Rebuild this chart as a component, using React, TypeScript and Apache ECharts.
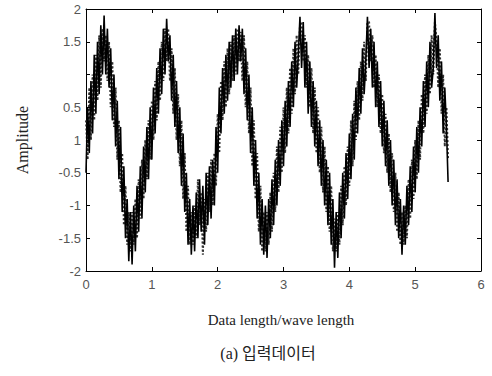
import React, { useEffect, useRef } from "react";
import * as echarts from "echarts";

const xStep = 0.025;
const solidValues = [
  -0.5, 0.5, -0.2, 0.9, 0.1, 1.3, 0.4, 1.5, 0.7, 1.75,
  1.0, 1.9, 1.0, 1.7, 0.8, 1.4, 0.3, 1.0, -0.1, 0.6,
  -0.6, 0.2, -1.1, -0.4, -1.5, -0.9, -1.85, -1.1, -1.9, -1.0,
  -1.7, -0.7, -1.4, -0.4, -1.2, -0.1, -0.8, 0.2, -0.6, 0.5,
  -0.3, 0.8, 0.1, 1.1, 0.4, 1.4, 0.7, 1.7, 1.0, 1.85,
  1.2, 1.6, 0.6, 1.3, 0.2, 0.9, -0.2, 0.5, -0.7, 0.1,
  -1.1, -0.5, -1.6, -0.9, -1.75, -1.0, -1.7, -0.8, -1.5, -0.6,
  -1.4, -0.7, -1.6, -0.5, -1.3, -0.4, -1.2, -0.3, -1.0, 0.2,
  -0.5, 0.8, 0.1, 1.1, 0.4, 1.3, 0.6, 1.5, 0.8, 1.6,
  0.9, 1.7, 1.0, 1.75, 1.2, 1.7, 0.7, 1.4, 0.3, 1.0,
  -0.2, 0.5, -0.7, 0.0, -1.2, -0.5, -1.6, -0.9, -1.75, -1.0,
  -1.8, -0.9, -1.5, -0.6, -1.3, -0.3, -1.0, 0.0, -0.7, 0.3,
  -0.4, 0.6, -0.1, 0.9, 0.2, 1.2, 0.5, 1.5, 0.8, 1.3,
  1.88, 1.1, 1.8, 0.8, 1.5, 0.4, 1.2, 0.2, 0.9, -0.1,
  0.6, -0.4, 0.3, -0.7, 0.0, -1.0, -0.3, -1.3, -0.5, -1.6,
  -0.9, -1.95, -1.1, -1.8, -0.8, -1.5, -0.5, -1.2, -0.2, -0.9,
  0.1, -0.6, 0.4, -0.3, 0.8, 0.1, 1.1, 0.4, 1.4, 0.7,
  1.2, 1.88, 1.1, 1.7, 0.8, 1.5, 0.5, 1.2, 0.2, 0.9,
  -0.1, 0.6, -0.4, 0.3, -0.7, 0.0, -1.0, -0.3, -1.3, -0.6,
  -1.5, -0.9, -1.75, -1.0, -1.6, -0.7, -1.3, -0.4, -1.1, -0.1,
  -0.8, 0.2, -0.5, 0.5, -0.1, 0.9, 0.2, 1.2, 0.5, 1.5,
  0.8, 1.1, 1.94, 1.1, 1.6, 0.6, 1.2, 0.1, 0.8, 0.2,
  -0.64,
];
const dottedValues = [
  0.3, -0.3, 0.8, 0.0, 1.0, 0.3, 1.3, 0.6, 1.6, 0.8,
  1.7, 1.2, 1.6, 0.9, 1.5, 0.5, 1.2, 0.2, 0.8, -0.3,
  0.3, -0.8, -0.2, -1.3, -0.7, -1.6, -1.1, -1.7, -1.1, -1.6,
  -0.9, -1.5, -0.6, -1.2, -0.3, -0.9, 0.0, -0.6, 0.3, -0.3,
  0.6, 0.0, 0.9, 0.3, 1.2, 0.6, 1.5, 0.9, 1.7, 1.2,
  1.7, 0.9, 1.4, 0.4, 1.1, 0.0, 0.7, -0.4, 0.3, -0.9,
  -0.2, -1.4, -0.7, -1.6, -1.1, -1.6, -1.0, -1.5, -0.6, -1.3,
  -0.8, -1.75, -0.9, -1.4, -0.5, -1.1, -0.3, -1.0, -0.2, -0.7,
  0.4, -0.2, 0.9, 0.3, 1.2, 0.5, 1.4, 0.7, 1.5, 0.9,
  1.6, 1.0, 1.7, 1.2, 1.65, 0.9, 1.6, 0.5, 1.2, 0.1,
  0.8, -0.4, 0.3, -0.9, -0.2, -1.4, -0.7, -1.7, -1.1, -1.7,
  -1.1, -1.6, -0.8, -1.4, -0.5, -1.1, -0.1, -0.8, 0.2, -0.5,
  0.5, -0.2, 0.8, 0.1, 1.1, 0.4, 1.4, 0.7, 1.6, 1.0,
  1.75, 1.8, 1.2, 1.6, 0.8, 1.3, 0.5, 1.1, 0.1, 0.8,
  -0.2, 0.5, -0.5, 0.2, -0.8, -0.1, -1.1, -0.4, -1.4, -0.7,
  -1.7, -1.2, -1.7, -1.1, -1.6, -0.7, -1.3, -0.4, -1.0, -0.1,
  -0.7, 0.3, -0.4, 0.6, 0.0, 0.9, 0.3, 1.2, 0.6, 1.5,
  0.9, 1.8, 1.8, 1.2, 1.6, 0.8, 1.3, 0.5, 1.0, 0.1,
  0.7, -0.2, 0.4, -0.5, 0.1, -0.8, -0.2, -1.1, -0.5, -1.4,
  -0.8, -1.6, -1.1, -1.6, -1.0, -1.5, -0.6, -1.2, -0.3, -0.9,
  0.0, -0.6, 0.3, -0.3, 0.7, 0.1, 1.0, 0.4, 1.3, 0.7,
  1.6, 1.0, 1.8, 1.5, 0.8, 1.4, 0.4, 1.0, -0.1, 0.5,
  -0.3,
];
const yTickValues = [-2, -1.5, -1, -0.5, 0, 0.5, 1, 1.5, 2];
const yTickLabels = ["-2", "-1.5", "-1", "-0.5", "1", "0.5", "", "1.5", "2"];
const xTickLabels = ["0", "1", "2", "3", "4", "5", "6"];

const toPairs = (vals: number[]) => vals.map((v, i) => [+(i * xStep).toFixed(3), v]);

export default function App() {
  const ref = useRef<HTMLDivElement>(null);
  useEffect(() => {
    if (!ref.current) return;
    const chart = echarts.init(ref.current, undefined, { renderer: "svg" });
    const axisLine = { show: true, onZero: false, lineStyle: { color: "#000", width: 1 } };
    const tick = { show: true, inside: true, length: 4, lineStyle: { color: "#000" } };
    const labelFont = { fontFamily: "Liberation Sans", fontSize: 13, color: "#555" };
    chart.setOption({
      animation: false,
      backgroundColor: "#fff",
      grid: { left: 86, right: 11, top: 9, bottom: 105 },
      xAxis: [
        {
          type: "value", min: 0, max: 6, interval: 1,
          axisLine, axisTick: tick, splitLine: { show: false },
          axisLabel: { ...labelFont, margin: 7, formatter: (v: number) => xTickLabels[Math.round(v)] ?? "" },
        },
        {
          type: "value", position: "top", min: 0, max: 6, interval: 1,
          axisLine, axisTick: tick, splitLine: { show: false }, axisLabel: { show: false },
        },
      ],
      yAxis: [
        {
          type: "value", min: -2, max: 2, interval: 0.5,
          axisLine, axisTick: tick, splitLine: { show: false },
          axisLabel: {
            ...labelFont, margin: 5,
            formatter: (v: number) => {
              const idx = yTickValues.findIndex((t) => Math.abs(t - v) < 1e-6);
              return idx >= 0 ? yTickLabels[idx] : "";
            },
          },
        },
        {
          type: "value", position: "right", min: -2, max: 2, interval: 0.5,
          axisLine, axisTick: tick, splitLine: { show: false }, axisLabel: { show: false },
        },
      ],
      series: [
        {
          type: "line", data: toPairs(dottedValues), showSymbol: false, symbol: "none",
          lineStyle: { color: "#333", width: 2, type: "dotted" }, z: 2,
        },
        {
          type: "line", data: toPairs(solidValues), showSymbol: false, symbol: "none",
          lineStyle: { color: "#000", width: 1.6 }, z: 3,
        },
      ],
      graphic: [
        {
          type: "text", x: 22, y: 140, rotation: Math.PI / 2,
          style: { text: "Amplitude", fontFamily: "Liberation Serif", fontSize: 16, fill: "#222", align: "center", verticalAlign: "middle" },
        },
        {
          type: "text", x: 281, y: 320,
          style: { text: "Data length/wave length", fontFamily: "Liberation Serif", fontSize: 15, fill: "#222", align: "center", verticalAlign: "middle" },
        },
        {
          type: "text", x: 268, y: 353,
          style: { text: "(a) 입력데이터", fontFamily: "'Liberation Serif', 'Noto Sans CJK KR'", fontSize: 16, fill: "#222", align: "center", verticalAlign: "middle" },
        },
      ],
    });
    return () => chart.dispose();
  }, []);
  return <div ref={ref} style={{ position: "fixed", left: 0, top: 0, width: 492, height: 376, background: "#fff" }} />;
}
